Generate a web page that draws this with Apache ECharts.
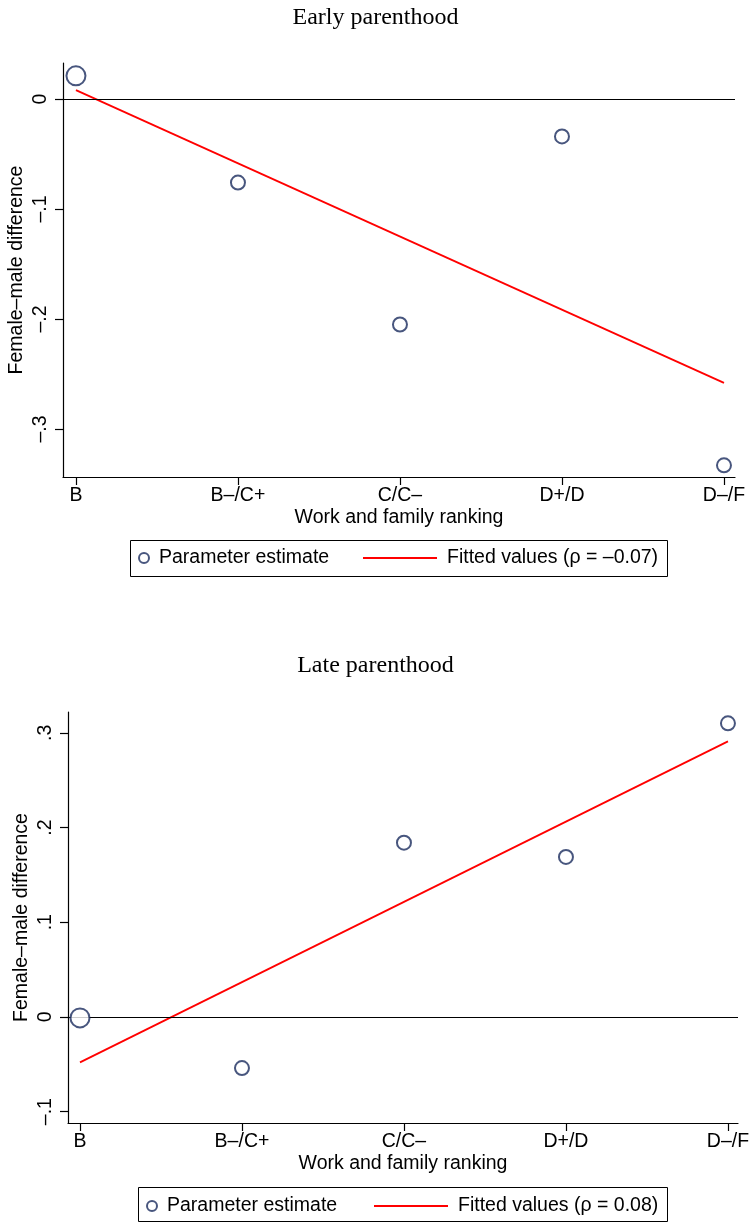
<!DOCTYPE html>
<html><head><meta charset="utf-8">
<script src="https://cdn.jsdelivr.net/npm/echarts@6/dist/echarts.min.js"></script>
<style>html,body{margin:0;padding:0;background:#fff}#c{width:751px;height:1222px}</style>
</head><body><div id="c"></div>
<script>
const categories = ['B', 'B–/C+', 'C/C–', 'D+/D', 'D–/F'];
const xTicks = [0, 1, 2, 3, 4];
const earlyEstimates = [0.021, -0.076, -0.205, -0.034, -0.333];
const earlyFitted = [0.008, -0.258];      // fitted values at B and at D–/F
const lateEstimates = [-0.001, -0.054, 0.184, 0.169, 0.310];
const lateFitted = [-0.048, 0.291];        // fitted values at B and at D–/F
const earlyYTicks = [-0.3, -0.2, -0.1, 0];
const earlyYTickLabels = ['–.3', '–.2', '–.1', '0'];
const lateYTicks = [-0.1, 0, 0.1, 0.2, 0.3];
const lateYTickLabels = ['–.1', '0', '.1', '.2', '.3'];
const titles = ['Early parenthood', 'Late parenthood'];
const xTitle = 'Work and family ranking';
const yTitle = 'Female–male difference';
const estName = 'Parameter estimate';
const fitNames = ['Fitted values (ρ = –0.07)', 'Fitted values (ρ = 0.08)'];

const SANS = 'Liberation Sans, Arial, sans-serif';
const FS = 19.5;
const NAVY = '#1a2c5e';
const chart = echarts.init(document.getElementById('c'), null, {renderer: 'canvas'});

function tickFmt(ticks, labels) {
  return v => { const i = ticks.findIndex(t => Math.abs(t - v) < 1e-9); return i >= 0 ? labels[i] : ''; };
}
function xAxisCfg(gi, min, max) {
  return {
    type: 'value', gridIndex: gi, min: min, max: max,
    axisLine: {show: true, onZero: false, lineStyle: {color: '#000', width: 1.2}},
    axisTick: {show: true, customValues: xTicks, length: 8, lineStyle: {color: '#000', width: 1.2}},
    axisLabel: {customValues: xTicks, formatter: v => categories[Math.round(v)], fontFamily: SANS, fontSize: FS, color: '#000', margin: 9},
    splitLine: {show: false},
    name: xTitle, nameLocation: 'middle', nameGap: 31, nameMoveOverlap: false,
    nameTextStyle: {fontFamily: SANS, fontSize: FS, color: '#000'}
  };
}
function yAxisCfg(gi, min, max, ticks, labels) {
  return {
    type: 'value', gridIndex: gi, min: min, max: max,
    axisLine: {show: true, onZero: false, lineStyle: {color: '#000', width: 1.2}},
    axisTick: {show: true, customValues: ticks, length: 8, lineStyle: {color: '#000', width: 1.2}},
    axisLabel: {customValues: ticks, formatter: tickFmt(ticks, labels), rotate: 90, fontFamily: SANS, fontSize: FS, color: '#000', margin: 12},
    splitLine: {show: false},
    name: yTitle, nameLocation: 'middle', nameGap: 36, nameRotate: 90, nameMoveOverlap: false,
    nameTextStyle: {fontFamily: SANS, fontSize: FS, color: '#000'}
  };
}
function scatterSeries(gi, vals) {
  return {
    type: 'scatter', name: estName, xAxisIndex: gi, yAxisIndex: gi,
    data: vals.map((v, i) => [xTicks[i], v]),
    symbol: 'emptyCircle',
    symbolSize: (v, p) => p.dataIndex === 0 ? 19 : 14,
    itemStyle: {color: NAVY, borderColor: NAVY, borderWidth: 2},
    z: 5,
    markLine: {silent: true, symbol: 'none', animation: false, label: {show: false},
      lineStyle: {color: '#000', width: 1, type: 'solid'}, data: [{yAxis: 0}]}
  };
}
function fitSeries(gi, name, vals) {
  return {
    type: 'line', name: name, xAxisIndex: gi, yAxisIndex: gi,
    data: [[xTicks[0], vals[0]], [xTicks[xTicks.length - 1], vals[1]]],
    symbol: 'none', lineStyle: {color: '#ff0000', width: 1.8}, itemStyle: {color: '#ff0000'}, z: 4
  };
}
const legTxt = {fontFamily: SANS, fontSize: FS, color: '#000', lineHeight: 20, padding: [0, 0, 0, 5]};

chart.setOption({
  animation: false,
  backgroundColor: '#fff',
  title: [
    {text: titles[0], left: 'center', top: 6, padding: 0, textStyle: {fontFamily: 'Liberation Serif, serif', fontWeight: 'normal', fontSize: 24, color: '#000'}},
    {text: titles[1], left: 'center', top: 654, padding: 0, textStyle: {fontFamily: 'Liberation Serif, serif', fontWeight: 'normal', fontSize: 24, color: '#000'}}
  ],
  grid: [
    {left: 63, top: 63, width: 672, height: 414, containLabel: false, outerBoundsMode: 'none'},
    {left: 68, top: 712, width: 670, height: 411, containLabel: false, outerBoundsMode: 'none'}
  ],
  xAxis: [xAxisCfg(0, -0.08, 4.068), xAxisCfg(1, -0.074, 4.062)],
  yAxis: [yAxisCfg(0, -0.3436, 0.0327, earlyYTicks, earlyYTickLabels), yAxisCfg(1, -0.112, 0.322, lateYTicks, lateYTickLabels)],
  legend: [
    {data: [estName], left: 138, top: 548, padding: 0, itemWidth: 10, itemHeight: 10, textStyle: legTxt, selectedMode: false,
      itemStyle: {borderWidth: 1.6}},
    {data: [{name: fitNames[0], icon: 'rect'}], left: 363, top: 548, padding: 0, itemWidth: 74, itemHeight: 2, textStyle: legTxt, selectedMode: false},
    {data: [estName], left: 146, top: 1196, padding: 0, itemWidth: 10, itemHeight: 10, textStyle: legTxt, selectedMode: false,
      itemStyle: {borderWidth: 1.6}},
    {data: [{name: fitNames[1], icon: 'rect'}], left: 374, top: 1196, padding: 0, itemWidth: 74, itemHeight: 2, textStyle: legTxt, selectedMode: false}
  ],
  graphic: [
    {type: 'rect', shape: {x: 130.5, y: 540.5, width: 537, height: 36}, style: {fill: 'none', stroke: '#000', lineWidth: 1}, silent: true},
    {type: 'rect', shape: {x: 138.5, y: 1187.5, width: 529, height: 34}, style: {fill: 'none', stroke: '#000', lineWidth: 1}, silent: true}
  ],
  series: [
    scatterSeries(0, earlyEstimates), fitSeries(0, fitNames[0], earlyFitted),
    scatterSeries(1, lateEstimates), fitSeries(1, fitNames[1], lateFitted)
  ]
});
</script></body></html>
